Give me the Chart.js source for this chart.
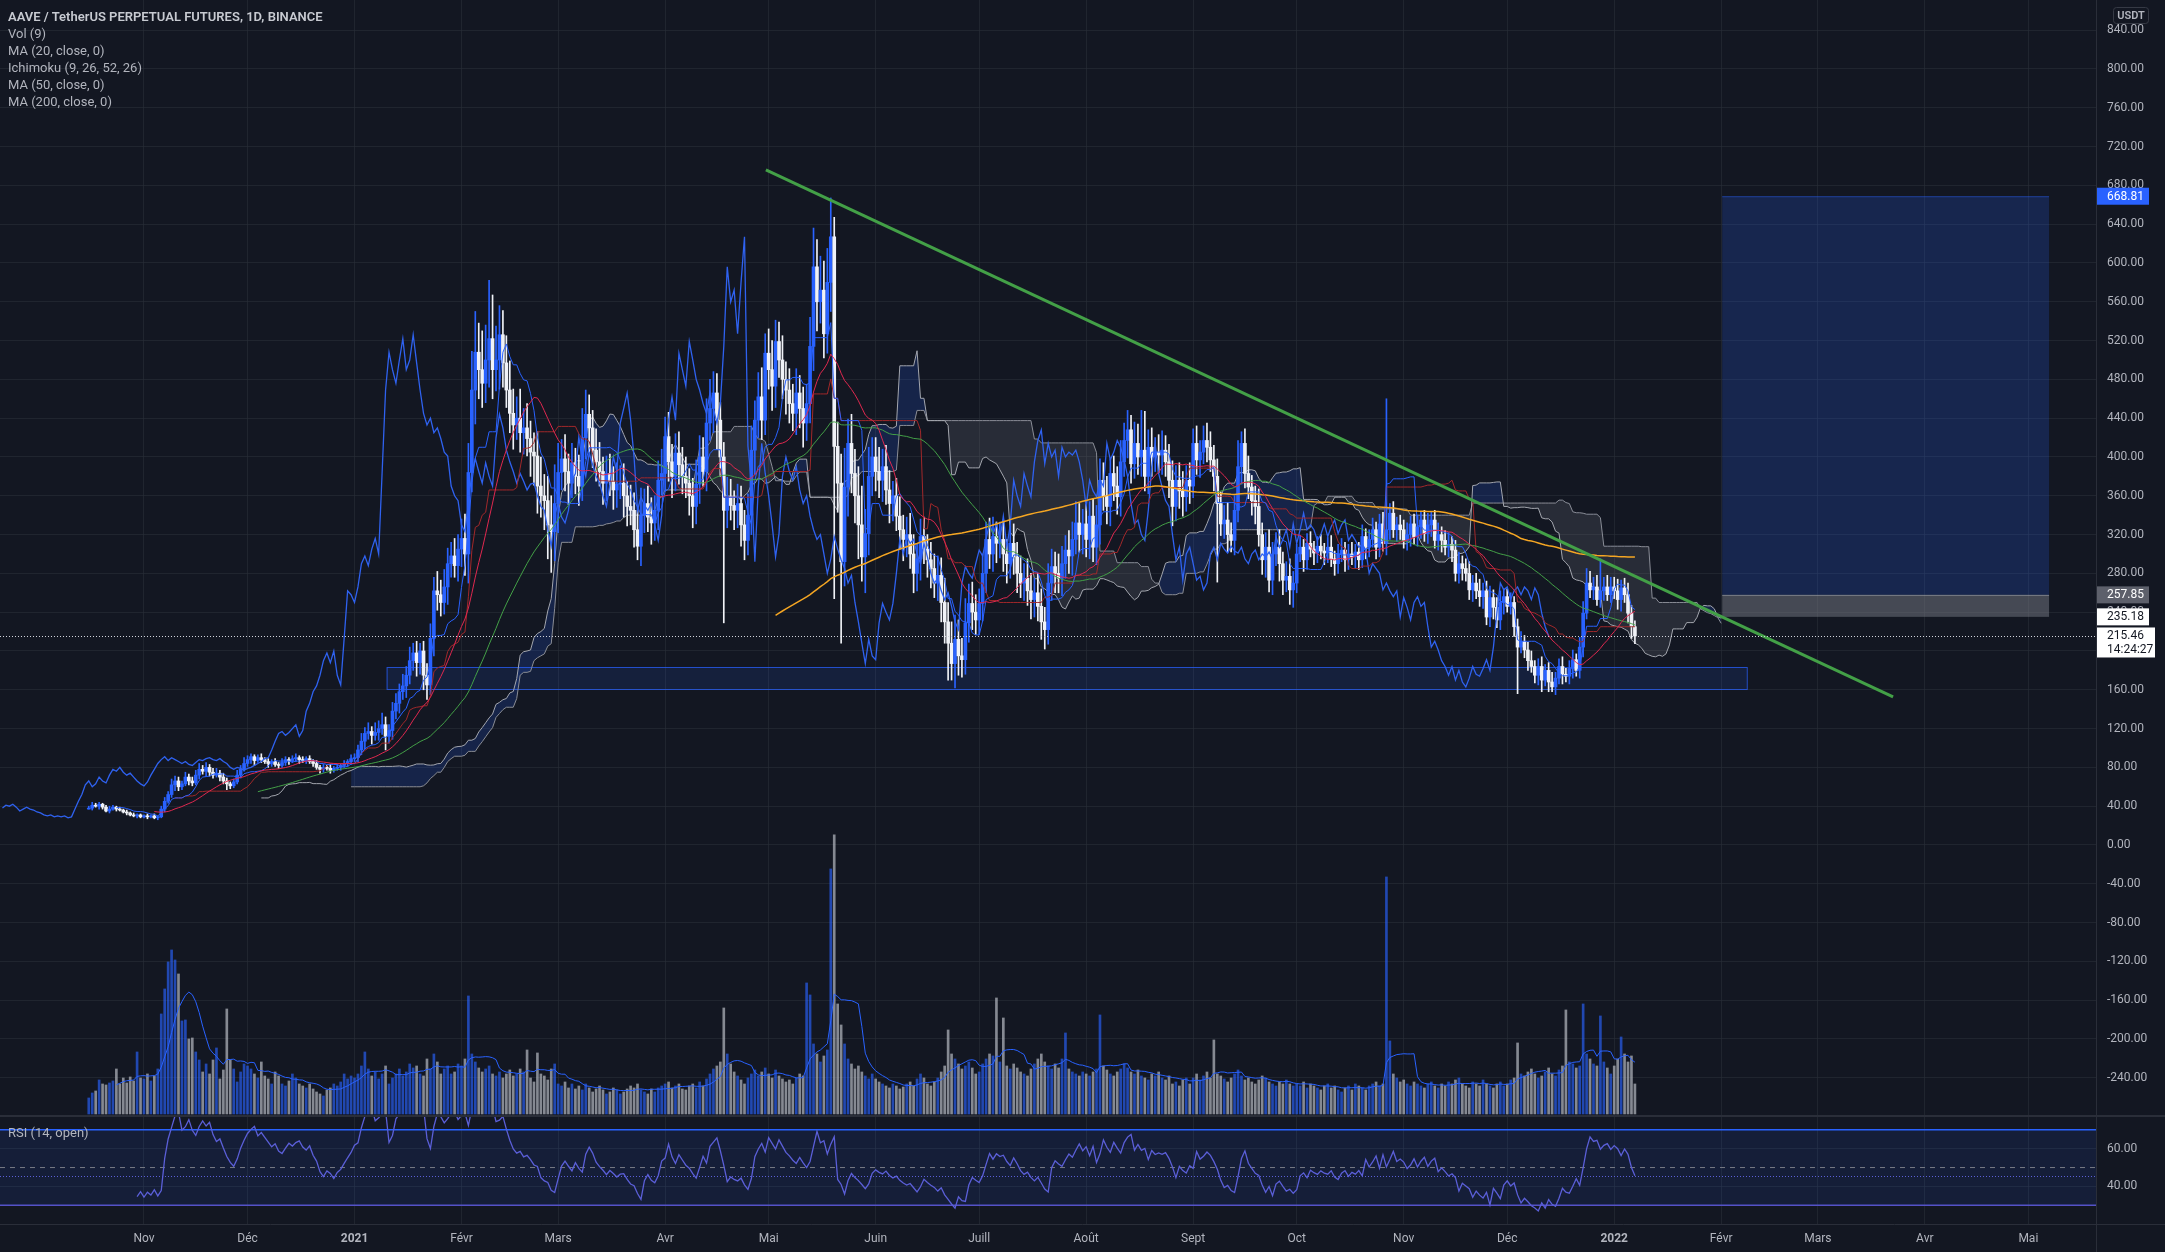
<!DOCTYPE html>
<html>
<head>
<meta charset="utf-8">
<script src="https://cdn.jsdelivr.net/npm/chart.js@4.4.1/dist/chart.umd.min.js"></script>
<style>
  html, body { margin: 0; padding: 0; background: #131722; overflow: hidden; }
  #wrap { position: relative; width: 2165px; height: 1252px; }
  #legend { position: absolute; left: 8px; top: 8px; font: 13px Roboto, sans-serif; color: #b2b5be; line-height: 17px; white-space: nowrap; }
  #legend .sym { color: #c7cad1; font-weight: 600; }
  #rsiTitle { position: absolute; left: 8px; top: 1125px; font: 13px Roboto, sans-serif; color: #b2b5be; }
</style>
</head>
<body>
<div id="wrap">
  <canvas id="chart" width="2165" height="1252"></canvas>
  <div id="legend">
    <div class="sym">AAVE / TetherUS PERPETUAL FUTURES, 1D, BINANCE</div>
    <div>Vol (9)</div>
    <div>MA (20, close, 0)</div>
    <div>Ichimoku (9, 26, 52, 26)</div>
    <div>MA (50, close, 0)</div>
    <div>MA (200, close, 0)</div>
  </div>
  <div id="rsiTitle">RSI (14, open)</div>
</div>
<script>
// day 0 = 1 Nov 2020, first candle = 16 Oct 2020
const startDay = -16;
const firstOpen = 38;

// daily closes (USDT)
const closes = [
  38,41,40,42,39,35,37,39,37,36,34,33,31,30,31,29, // oct 2020
  30,29,30,28,29,37,45,52,62,66,60,63,70,66,64,72,78,76,80,75,72,74,70,66,63,61,65,72,78,84, // nov
  88,91,87,90,88,86,84,86,83,82,85,88,87,89,90,88,87,89,86,84,80,78,80,79,77,79,80,82,84,86,89, // dec
  90,98,107,115,117,113,116,120,124,112,118,138,146,158,164,175,190,198,188,200,175,165,213,262,258,250,266,290,298,288,305, // jan 2021
  316,300,384,469,508,490,476,500,522,490,500,526,497,469,445,433,440,425,430,419,405,401,370,360,355,330,323,352, // feb
  384,398,385,373,394,380,370,420,444,430,407,395,385,373,383,375,366,372,373,360,349,345,325,308,340,352,338,332,345,376,383, // mar
  421,395,380,404,392,380,373,360,349,372,400,385,435,450,466,438,400,345,359,350,345,352,330,314,340,407,438,462,438,507, // apr
  490,473,519,500,480,469,455,445,466,450,435,455,514,596,560,572,527,580,627,411,373,292,369,414,383,360,330,297,321,380,400, // may
  385,376,390,366,352,360,339,325,315,320,300,280,295,318,305,294,285,270,278,250,230,208,187,212,195,191,229,249,240,232, // jun
  249,280,315,300,318,311,315,300,290,311,297,280,270,275,262,253,260,246,230,222,270,287,280,275,290,304,298,315,332,320,331, // jul
  315,339,307,330,376,360,349,383,370,359,395,417,428,393,414,400,407,380,410,400,405,402,407,395,376,349,376,365,359,376,370, // aug
  414,397,405,417,410,397,380,352,331,335,320,314,345,390,414,383,369,355,349,320,294,307,273,300,307,290,273,277,263,270, // sep
  300,307,294,311,305,301,308,303,301,307,295,290,300,304,294,300,297,302,294,318,307,315,325,307,331,311,325,342,325,330,325, // oct
  314,320,331,318,328,335,321,330,335,314,320,314,307,310,304,280,290,285,280,263,270,262,256,262,235,255,245,232,250,256, // nov
  246,250,225,204,210,201,190,184,175,184,170,180,168,163,172,184,176,174,182,191,180,204,239,270,263,266,253,262,266,258,266, // dec
  262,253,265,258,239,225,215.46 // jan 2022
];

// upper wick above the body
const wickUp = [
  2,3,2,2,1,2,3,2,1,2,1,2,1,2,1,1,
  1,2,1,2,1,3,4,3,6,5,4,3,5,3,4,5,6,4,5,3,4,5,3,4,3,2,3,5,4,6,
  4,3,2,3,4,2,3,2,3,2,4,3,2,3,4,2,3,2,3,2,3,2,3,2,4,2,3,2,3,2,4,
  4,5,8,6,9,5,10,8,12,8,6,9,10,8,12,9,14,10,12,8,10,12,15,14,20,15,18,16,14,18,15,
  20,25,30,40,42,30,40,36,60,45,35,30,25,28,30,25,22,30,20,25,18,20,25,30,22,25,30,40,
  30,20,25,18,20,15,22,30,25,20,18,22,20,15,18,20,15,22,18,20,15,22,18,20,28,15,18,20,15,20,25,
  20,25,18,20,22,18,20,15,18,25,22,20,25,30,22,20,18,15,20,18,15,20,18,15,22,25,20,25,30,20,
  25,30,22,20,25,18,22,20,25,18,22,20,30,40,28,35,30,35,40,20,25,30,40,25,30,25,30,40,25,30,20,
  20,25,18,22,20,15,18,20,15,18,22,20,15,18,20,15,18,15,20,18,25,20,22,25,20,18,25,20,22,18,
  15,20,18,22,20,15,18,20,15,18,20,15,18,15,20,18,15,20,18,15,20,18,15,20,18,15,20,18,22,20,15,
  20,15,18,20,22,18,20,15,18,20,22,18,20,15,22,20,41,40,18,20,15,18,20,15,18,20,15,18,20,15,18,
  15,18,12,15,18,16,15,18,12,15,18,12,15,27,12,15,18,12,15,18,12,15,18,12,15,18,12,15,18,12,
  10,12,8,10,12,8,10,12,8,10,12,8,10,12,8,10,12,8,10,12,8,10,12,8,10,12,135,10,12,8,10,
  10,12,8,10,12,8,10,12,8,10,12,8,10,12,8,10,12,8,10,12,8,10,12,8,10,12,8,10,12,8,
  8,10,6,8,10,6,8,10,6,8,10,6,8,10,6,8,10,6,8,10,6,10,12,15,12,10,12,33,10,12,10,
  10,12,8,10,12,8,6
];

// lower wick below the body
const wickDown = [
  1,2,1,3,2,1,2,1,2,1,1,2,1,1,2,1,
  1,2,1,1,2,1,3,2,3,6,4,3,2,4,3,2,4,3,5,4,3,2,4,3,6,3,2,2,3,2,
  3,4,5,2,3,2,4,3,2,3,2,3,4,2,3,4,2,3,2,3,2,4,3,2,3,2,2,3,2,3,3,
  3,4,5,8,6,9,5,8,6,14,7,9,8,10,8,12,9,10,14,12,15,15,10,18,16,14,12,18,14,12,16,
  18,22,30,20,35,30,25,20,28,30,22,30,25,18,20,25,15,20,22,18,25,30,28,22,30,35,42,30,
  30,18,20,22,15,18,20,15,22,25,18,20,15,22,18,15,20,18,15,22,20,15,18,14,20,18,15,22,18,20,15,
  18,20,22,15,20,18,15,20,22,18,20,15,20,18,25,30,20,116,18,15,20,18,22,20,15,20,25,18,20,15,
  20,25,22,18,20,25,20,18,22,20,25,18,20,25,30,22,25,20,30,157,30,84,25,30,20,28,35,25,37,22,20,
  20,18,22,15,20,18,15,20,22,18,15,20,18,22,15,18,20,15,18,20,22,38,17,25,20,18,15,20,18,15,
  15,18,20,15,18,20,15,18,20,15,18,20,15,18,15,20,18,15,18,20,15,18,20,15,18,15,18,20,15,18,20,
  18,20,15,18,20,15,18,20,15,18,20,15,18,20,15,18,20,15,18,20,15,18,20,15,18,20,15,18,20,15,18,
  12,15,18,12,15,12,15,81,12,15,18,12,15,12,18,15,12,15,18,12,15,18,12,15,12,18,15,12,15,18,
  10,8,12,10,8,12,10,8,12,10,8,12,10,8,12,10,8,12,10,8,12,10,8,12,10,8,12,10,8,12,10,
  8,10,12,8,10,12,8,10,12,8,10,12,8,10,12,8,10,12,8,10,12,8,10,12,8,10,12,8,10,12,
  6,8,10,48,6,8,10,6,8,10,12,6,10,5,8,6,10,6,8,10,6,8,10,6,8,10,6,8,10,6,8,
  8,10,12,8,10,12,8
];

// daily volume (thousand AAVE)
const volumes = [
  16,21,23,34,30,29,31,33,45,30,36,31,37,33,62,36,
  35,40,33,38,45,100,125,152,164,154,140,93,94,75,76,62,54,42,50,40,54,66,35,44,105,54,45,32,42,50,
  48,45,40,36,52,38,35,30,42,38,30,28,33,40,36,30,28,26,30,25,22,20,18,24,26,30,28,32,40,35,38,
  36,40,48,62,45,38,42,35,40,48,30,36,40,45,38,42,50,46,48,40,38,55,45,60,52,40,45,48,40,42,50,
  48,55,118,60,52,46,42,45,48,40,38,42,36,40,44,38,40,45,42,64,36,32,61,40,38,34,45,50,
  30,28,32,26,30,25,28,24,30,26,22,25,28,24,20,22,26,24,20,22,25,28,26,30,24,22,20,25,22,26,28,
  30,32,26,28,30,25,24,28,30,26,32,28,35,40,45,48,52,106,60,50,42,38,34,30,36,40,44,38,42,46,
  40,36,44,38,35,32,34,30,36,40,38,131,119,70,60,52,58,64,245,279,110,89,70,55,50,45,48,42,38,35,40,
  35,32,30,28,26,30,28,25,27,30,32,28,35,40,36,30,28,32,36,42,48,84,60,55,50,45,48,52,46,40,
  42,50,55,60,58,116,52,96,48,45,50,46,42,40,38,45,50,55,60,52,48,45,50,46,55,81,45,42,40,38,42,
  40,38,42,45,99,48,44,40,38,42,45,50,46,42,40,44,38,36,34,40,38,42,36,34,38,30,32,28,34,36,30,
  36,40,34,38,42,36,74,40,38,35,32,36,40,44,38,34,36,32,30,34,38,36,32,30,28,32,30,34,30,28,
  30,28,32,26,30,28,26,24,28,30,26,28,24,22,26,28,24,30,28,26,24,28,30,32,28,30,237,73,40,36,32,
  34,30,28,32,30,28,26,30,32,28,26,30,28,32,30,34,36,30,28,26,32,30,28,34,30,28,26,30,32,28,
  30,34,36,71,40,38,42,45,40,36,38,42,46,40,38,44,48,104,52,50,46,48,110,60,55,50,48,98,52,46,40,
  48,55,77,60,52,58,30
];

// time axis: first day of each month (days from 1 Nov 2020)
const monthDays = [0, 30, 61, 92, 120, 151, 181, 212, 242, 273, 304, 334, 365, 395, 426, 457, 485, 516, 546];
const monthLabels = ['Nov', 'Déc', '2021', 'Févr', 'Mars', 'Avr', 'Mai', 'Juin', 'Juill', 'Août', 'Sept', 'Oct', 'Nov', 'Déc', '2022', 'Févr', 'Mars', 'Avr', 'Mai'];
const priceTicks = [840, 800, 760, 720, 680, 640, 600, 560, 520, 480, 440, 400, 360, 320, 280, 240, 200, 160, 120, 80, 40, 0, -40, -80, -120, -160, -200, -240];
const rsiTicks = [40, 60];
const rsiBand = [30, 50, 70];

// drawings on the chart (day, price)
const trendLine = [{ x: 180.2, y: 696 }, { x: 506.8, y: 152.6 }];
const supportZone = { from: 70.3, to: 464.4, low: 160.8, high: 183.5 };
const longPosition = { from: 457.3, to: 552, target: 668.81, entry: 257.85, stop: 235.18 };
const lastPrice = 215.46;
const countdown = '14:24:27';

// view window
const viewStart = -41.72, viewEnd = 565.6;
const priceMin = -279.4, priceMax = 871.1;
const rsiMin = 20.05, rsiMax = 77.35;
const volBase = -277.3, volToPrice = 1.031;

const UP = '#2962ff', DOWN = '#f0f2f7';
const gridColor = 'rgba(42,46,57,0.6)';
const tickColor = '#b2b5be';
Chart.defaults.font.family = 'Roboto, "Noto Sans", sans-serif';

const days = closes.map((_, i) => startDay + i);
const opens = closes.map((c, i) => i === 0 ? firstOpen : closes[i - 1]);
const highs = closes.map((c, i) => Math.max(opens[i], c) + wickUp[i]);
const lows = closes.map((c, i) => Math.min(opens[i], c) - wickDown[i]);
const isUp = closes.map((c, i) => c >= opens[i]);

function sma(src, len) {
  return src.map((_, i) => i < len - 1 ? null : src.slice(i - len + 1, i + 1).reduce((a, b) => a + b, 0) / len);
}
function midpoint(len) {
  return closes.map((_, i) => i < len - 1 ? null :
    (Math.max(...highs.slice(i - len + 1, i + 1)) + Math.min(...lows.slice(i - len + 1, i + 1))) / 2);
}
function rsi(src, len) {
  const out = src.map(() => null);
  let up = 0, dn = 0;
  for (let i = 1; i < src.length; i++) {
    const ch = src[i] - src[i - 1];
    const u = Math.max(ch, 0), d = Math.max(-ch, 0);
    if (i <= len) {
      up += u / len; dn += d / len;
      if (i === len) out[i] = dn === 0 ? 100 : 100 - 100 / (1 + up / dn);
    } else {
      up = (up * (len - 1) + u) / len;
      dn = (dn * (len - 1) + d) / len;
      out[i] = dn === 0 ? 100 : 100 - 100 / (1 + up / dn);
    }
  }
  return out;
}
function pts(vals, shift = 0, from = 0) {
  const out = [];
  vals.forEach((v, i) => { if (v != null && i >= from) out.push({ x: days[i] + shift, y: v }); });
  return out;
}

const tenkan = midpoint(9);
const kijun = midpoint(26);
const spanA = tenkan.map((t, i) => (t == null || kijun[i] == null) ? null : (t + kijun[i]) / 2);
const spanB = midpoint(52);
const rsiVals = rsi(opens, 14);
const volMa = sma(volumes, 9);

const line = (label, data, color, width, order, extra = {}) => Object.assign({
  type: 'line', label, data, borderColor: color, borderWidth: width, pointRadius: 0,
  tension: 0, fill: false, order, yAxisID: 'y'
}, extra);

const datasets = [
  line('trend', trendLine, '#43a047', 3, 0),
  line('RSI', pts(rsiVals), '#5b5fd8', 1.3, 1, { yAxisID: 'yRsi' }),
  line('MA20', pts(sma(closes, 20)), '#e0284f', 1, 2),
  line('MA50', pts(sma(closes, 50)), '#43a047', 1, 2),
  line('MA200', pts(sma(closes, 200)), '#f5a623', 1.5, 2),
  line('Tenkan', pts(tenkan), '#2962ff', 1, 3),
  line('Kijun', pts(kijun), '#a1282a', 1, 3),
  line('Chikou', closes.map((c, i) => ({ x: days[i] - 25, y: c })), '#2f62f0', 1.3, 3),
  {
    type: 'bar', label: 'bodies', order: 4, grouped: false, barThickness: 3, minBarLength: 1,
    data: closes.map((c, i) => ({ x: days[i], y: [opens[i], c] })),
    backgroundColor: isUp.map(u => u ? UP : DOWN), borderWidth: 0, yAxisID: 'y'
  },
  {
    type: 'bar', label: 'wicks', order: 5, grouped: false, barThickness: 1,
    data: closes.map((c, i) => ({ x: days[i], y: [lows[i], highs[i]] })),
    backgroundColor: isUp.map(u => u ? UP : DOWN), borderWidth: 0, yAxisID: 'y'
  },
  line('Lead A', pts(spanA, 25), '#a3a6ae', 1, 6),
  line('Lead B', pts(spanB, 25), '#8a8d96', 1, 6),
  line('Vol MA', volMa.map((v, i) => v == null ? null : { x: days[i], y: volBase + v * volToPrice }).filter(Boolean), '#2962ff', 1, 7),
  {
    type: 'bar', label: 'volume', order: 8, grouped: false, barThickness: 2,
    data: volumes.map((v, i) => ({ x: days[i], y: [volBase, volBase + v * volToPrice] })),
    backgroundColor: isUp.map(u => u ? 'rgba(41,98,255,0.65)' : 'rgba(178,181,190,0.72)'), borderWidth: 0, yAxisID: 'y'
  },
  line('cloudA', pts(spanA, 25, 51), 'rgba(0,0,0,0)', 0, 9,
    { fill: { target: '+1', above: 'rgba(41,98,255,0.18)', below: 'rgba(120,123,134,0.22)' } }),
  line('cloudB', pts(spanB, 25, 51), 'rgba(0,0,0,0)', 0, 9)
];

function hline(ctx, x0, x1, y, color, width, dash) {
  ctx.save();
  ctx.strokeStyle = color; ctx.lineWidth = width; ctx.setLineDash(dash || []);
  ctx.beginPath(); ctx.moveTo(x0, y); ctx.lineTo(x1, y); ctx.stroke();
  ctx.restore();
}
function axisLabel(ctx, scale, price, lines, bg, fg) {
  const yp = scale.getPixelForValue(price);
  const two = lines.length > 1;
  const h = two ? 30 : 17;
  const top = yp - 8.5;
  ctx.fillStyle = bg;
  ctx.fillRect(scale.left + 1, top, two ? 58 : 52, h);
  ctx.fillStyle = fg;
  ctx.font = '12px Roboto, sans-serif';
  ctx.textAlign = 'left'; ctx.textBaseline = 'middle';
  lines.forEach((t, i) => ctx.fillText(t, scale.left + 11, top + 9 + i * 14));
}

const overlay = {
  id: 'overlay',
  beforeDraw(chart) {
    const { ctx, width, height } = chart;
    ctx.save(); ctx.fillStyle = '#131722'; ctx.fillRect(0, 0, width, height); ctx.restore();
  },
  beforeDatasetsDraw(chart) {
    const { ctx, chartArea: a, scales: { x, y, yRsi } } = chart;
    ctx.save();
    // RSI band
    const y70 = yRsi.getPixelForValue(rsiBand[2]), y50 = yRsi.getPixelForValue(rsiBand[1]), y30 = yRsi.getPixelForValue(rsiBand[0]);
    ctx.fillStyle = 'rgba(41,98,255,0.1)';
    ctx.fillRect(a.left, y70, a.right - a.left, y30 - y70);
    hline(ctx, a.left, a.right, y70, '#2962ff', 1.5);
    hline(ctx, a.left, a.right, y30, '#5552c8', 1.5);
    hline(ctx, a.left, a.right, y50, '#787b86', 1, [5, 5]);
    // support zone
    const sx0 = x.getPixelForValue(supportZone.from), sx1 = x.getPixelForValue(supportZone.to);
    const sy0 = y.getPixelForValue(supportZone.high), sy1 = y.getPixelForValue(supportZone.low);
    ctx.fillStyle = 'rgba(41,98,255,0.12)';
    ctx.fillRect(sx0, sy0, sx1 - sx0, sy1 - sy0);
    ctx.strokeStyle = 'rgba(41,98,255,0.75)'; ctx.lineWidth = 1;
    ctx.strokeRect(sx0 + 0.5, sy0 + 0.5, sx1 - sx0, sy1 - sy0);
    // long position
    const lx0 = x.getPixelForValue(longPosition.from), lx1 = x.getPixelForValue(longPosition.to);
    const yT = y.getPixelForValue(longPosition.target), yE = y.getPixelForValue(longPosition.entry), yS = y.getPixelForValue(longPosition.stop);
    ctx.fillStyle = 'rgba(41,98,255,0.2)';
    ctx.fillRect(lx0, yT, lx1 - lx0, yE - yT);
    hline(ctx, lx0, lx1, yT + 0.5, 'rgba(41,98,255,0.45)', 1);
    ctx.fillStyle = 'rgba(120,123,134,0.5)';
    ctx.fillRect(lx0, yE, lx1 - lx0, yS - yE);
    hline(ctx, lx0, lx1, yE + 0.5, 'rgba(178,181,190,0.5)', 1);
    ctx.restore();
  },
  beforeDatasetDraw(chart, args) {
    const { ctx, chartArea: a } = chart;
    const s = chart.scales[args.meta.yAxisID];
    ctx.save();
    ctx.beginPath();
    ctx.rect(a.left, s.top, a.right - a.left, s.bottom - s.top);
    ctx.clip();
  },
  afterDatasetDraw(chart) {
    chart.ctx.restore();
  },
  afterDatasetsDraw(chart) {
    const { ctx, chartArea: a, scales: { y, yRsi } } = chart;
    hline(ctx, a.left, a.right, Math.round(y.getPixelForValue(lastPrice)) + 0.5, '#d1d4dc', 1, [1, 2]);
    const lastRsi = rsiVals[rsiVals.length - 1];
    hline(ctx, a.left, a.right, Math.round(yRsi.getPixelForValue(lastRsi)) + 0.5, '#5b5fd8', 1, [1, 2]);
  },
  afterDraw(chart) {
    const { ctx, width, height, chartArea: a, scales: { y, yRsi } } = chart;
    ctx.save();
    hline(ctx, 0, width, yRsi.top, '#2a2e39', 2);
    hline(ctx, 0, width, a.bottom + 0.5, '#2a2e39', 1);
    ctx.strokeStyle = '#2a2e39'; ctx.lineWidth = 1;
    ctx.beginPath(); ctx.moveTo(a.right + 0.5, 0); ctx.lineTo(a.right + 0.5, height); ctx.stroke();
    axisLabel(ctx, y, longPosition.target, [longPosition.target.toFixed(2)], '#2962ff', '#ffffff');
    axisLabel(ctx, y, longPosition.entry, [longPosition.entry.toFixed(2)], '#5d606b', '#ffffff');
    axisLabel(ctx, y, longPosition.stop, [longPosition.stop.toFixed(2)], '#ffffff', '#131722');
    axisLabel(ctx, y, lastPrice, [lastPrice.toFixed(2), countdown], '#ffffff', '#131722');
    // currency box
    ctx.strokeStyle = '#363a45'; ctx.lineWidth = 1;
    ctx.beginPath(); ctx.roundRect(a.right + 17.5, 7.5, 35, 16, 3); ctx.stroke();
    ctx.fillStyle = '#b2b5be'; ctx.font = '600 11px Roboto, sans-serif';
    ctx.textAlign = 'center'; ctx.textBaseline = 'middle';
    ctx.fillText('USDT', a.right + 35, 16);
    ctx.restore();
  }
};

const yAxisBase = {
  position: 'right', stack: 'pane',
  grid: { color: gridColor, drawTicks: false },
  border: { display: true, color: '#2a2e39' },
  ticks: { color: tickColor, padding: 11, autoSkip: false, font: { size: 12 }, callback: v => Number(v).toFixed(2) }
};

new Chart(document.getElementById('chart'), {
  type: 'bar',
  data: { datasets },
  options: {
    responsive: false, animation: false, events: [], devicePixelRatio: 1,
    layout: { padding: 0 },
    plugins: { legend: { display: false }, tooltip: { enabled: false }, title: { display: false } },
    scales: {
      x: {
        type: 'linear', position: 'bottom', min: viewStart, max: viewEnd, offset: false,
        grid: { color: gridColor, offset: false, drawTicks: false },
        border: { display: false },
        ticks: {
          color: tickColor, padding: 8, autoSkip: false, maxRotation: 0,
          font: c => ({ size: 12, weight: /^\d/.test(monthLabels[c.index] || '') ? 'bold' : 'normal' }),
          callback: (v, i) => monthLabels[i]
        },
        afterBuildTicks: s => { s.ticks = monthDays.map(v => ({ value: v })); },
        afterFit: s => { s.height = 28; s.paddingLeft = 0; s.paddingRight = 0; }
      },
      y: Object.assign({}, yAxisBase, {
        stackWeight: 1116, min: priceMin, max: priceMax,
        afterBuildTicks: s => { s.ticks = priceTicks.map(v => ({ value: v })); },
        afterFit: s => { s.width = 69; s.paddingTop = 0; s.paddingBottom = 0; }
      }),
      yRsi: Object.assign({}, yAxisBase, {
        stackWeight: 108, min: rsiMin, max: rsiMax,
        afterBuildTicks: s => { s.ticks = rsiTicks.map(v => ({ value: v })); },
        afterFit: s => { s.width = 69; s.paddingTop = 0; s.paddingBottom = 0; }
      })
    }
  },
  plugins: [overlay]
});
</script>
</body>
</html>
